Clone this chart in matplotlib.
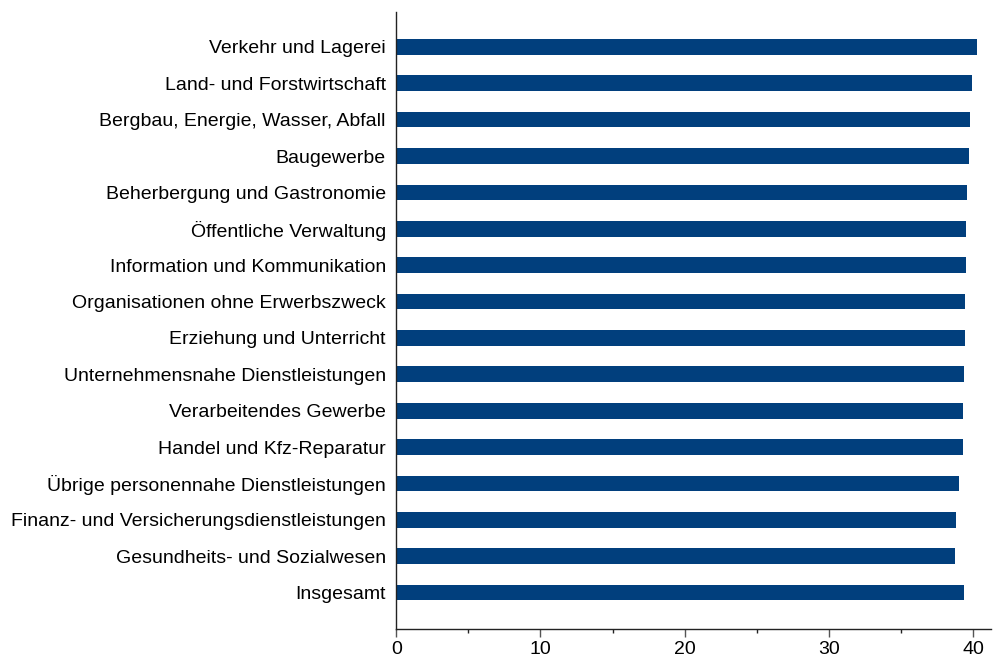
import numpy as np
import matplotlib.pyplot as plt
from matplotlib.ticker import MultipleLocator

plt.rcParams['font.family'] = ['Liberation Sans', 'DejaVu Sans']

# Kategorien von oben nach unten
categories = [
    'Verkehr und Lagerei',
    'Land- und Forstwirtschaft',
    'Bergbau, Energie, Wasser, Abfall',
    'Baugewerbe',
    'Beherbergung und Gastronomie',
    'Öffentliche Verwaltung',
    'Information und Kommunikation',
    'Organisationen ohne Erwerbszweck',
    'Erziehung und Unterricht',
    'Unternehmensnahe Dienstleistungen',
    'Verarbeitendes Gewerbe',
    'Handel und Kfz-Reparatur',
    'Übrige personennahe Dienstleistungen',
    'Finanz- und Versicherungsdienstleistungen',
    'Gesundheits- und Sozialwesen',
    'Insgesamt',
]
values = [40.27, 39.94, 39.78, 39.74, 39.55, 39.53, 39.49, 39.44,
          39.44, 39.37, 39.32, 39.32, 39.0, 38.81, 38.77, 39.37]

bar_color = '#013F7D'

fig = plt.figure(figsize=(9.93, 6.66), dpi=100)
ax = fig.add_axes([0.399, 0.0556, 0.599, 0.9264])

y = np.arange(len(categories))[::-1]
ax.barh(y, values, height=0.43, color=bar_color)

ax.set_yticks(y)
ax.set_yticklabels(categories, fontsize=14.0)
ax.set_ylim(-1.0, 15.96)
ax.set_xlim(0, 41.24)

ax.xaxis.set_major_locator(MultipleLocator(10))
ax.xaxis.set_minor_locator(MultipleLocator(5))
ax.tick_params(axis='x', which='major', length=6, width=1, color='#555555',
               labelsize=14.0, pad=2.5)
ax.tick_params(axis='x', which='minor', length=3, width=1, color='#222222')
ax.tick_params(axis='y', length=0, pad=7.5)

for s in ['top', 'right']:
    ax.spines[s].set_visible(False)
for s in ['left', 'bottom']:
    ax.spines[s].set_color('#222222')
    ax.spines[s].set_linewidth(1)

fig.savefig('out.png', dpi=100)
